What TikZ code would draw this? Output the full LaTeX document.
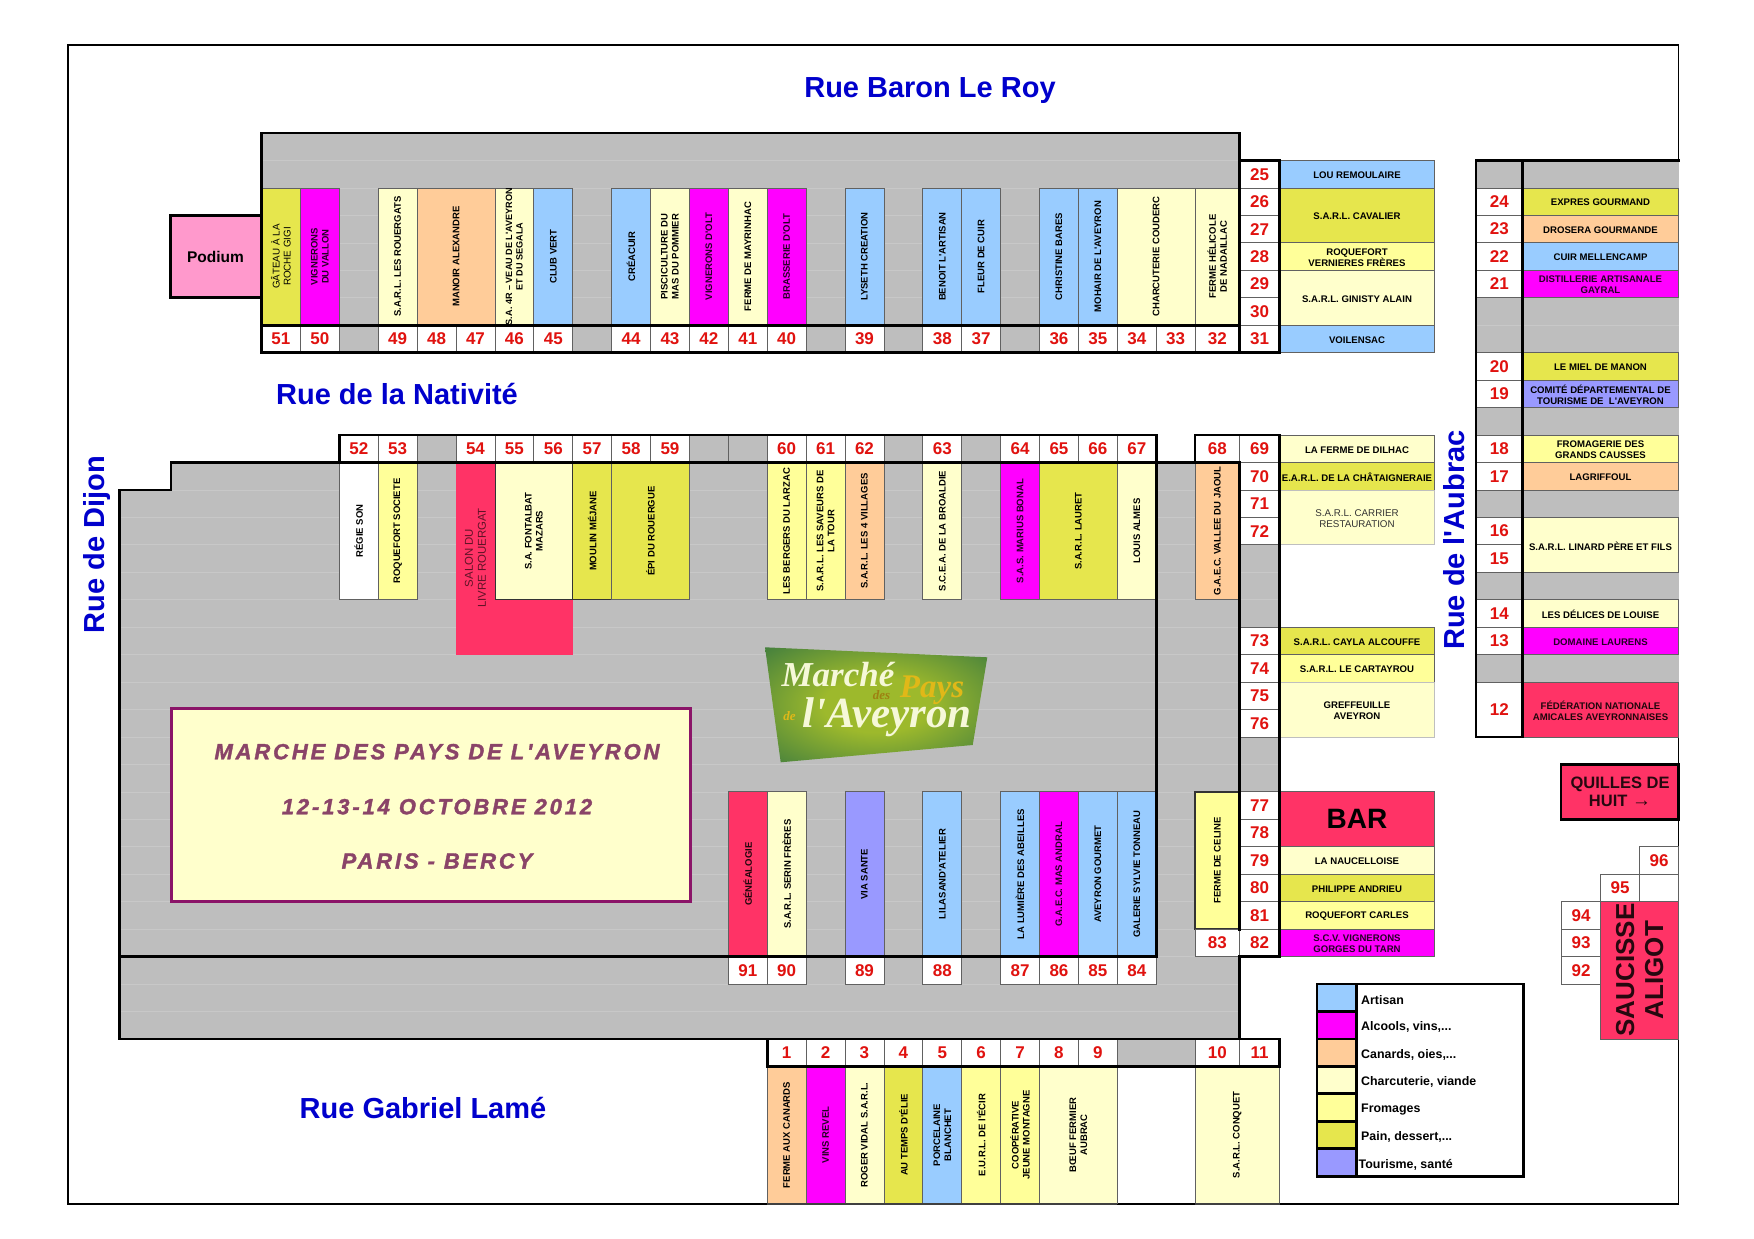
\documentclass[tikz,border=0pt]{standalone}
\usepackage{fontspec}
\setmainfont[Ligatures=TeXOff]{Liberation Sans}
\newfontfamily\logofont{Liberation Serif}
\newfontfamily\widefont[LetterSpace=13,Ligatures=TeXOff,BoldItalicFeatures={FakeBold=1.6}]{Liberation Sans}
\definecolor{cPain}{HTML}{E6E64D}
\definecolor{cCream}{HTML}{FFFFCC}
\definecolor{cFrom}{HTML}{FFFF99}
\definecolor{cOr}{HTML}{FFCC99}
\definecolor{cBlue}{HTML}{99CCFF}
\definecolor{cMag}{HTML}{FF00FF}
\definecolor{cRed}{HTML}{FF3366}
\definecolor{cTour}{HTML}{9999FF}
\definecolor{cPink}{HTML}{FF99CC}
\definecolor{cGrey}{HTML}{BEBEBE}
\definecolor{cNum}{HTML}{E0120F}
\definecolor{cTitle}{HTML}{0000CC}
\definecolor{cBan}{HTML}{8A4468}
\definecolor{cBanB}{HTML}{8B1468}
\definecolor{cLogoA}{HTML}{9DB92C}
\definecolor{cLogoB}{HTML}{2C7042}
\definecolor{cGold}{HTML}{E0B818}
\definecolor{cWhit}{HTML}{F6F8D8}
\pgfdeclareradialshading{logoshade}{\pgfpoint{0bp}{0bp}}{color(0bp)=(cLogoA); color(12bp)=(cLogoA); color(42bp)=(cLogoB); color(50bp)=(cLogoB)}
\def\xA{1239.5}\def\xB{1279.5}\def\xC{1434.5}\def\xD{1476}\def\xE{1522.5}\def\xF{1678.5}
\tikzset{
 pa/.style={fill=cPain}, cr/.style={fill=cCream}, fr/.style={fill=cFrom}, orr/.style={fill=cOr},
 bl/.style={fill=cBlue}, ma/.style={fill=cMag,text=black!85!cMag}, re/.style={fill=cRed,text=black!88!cRed},
 to/.style={fill=cTour}, wh/.style={fill=white},
 boxline/.style={draw=black!62,line width=0.8pt},
 vlabel/.style={rotate=90,align=center,inner sep=0pt,font=\bfseries\fontsize{9.5}{11}\selectfont},
 hlabel/.style={align=center,inner sep=0pt,yshift=-1pt,font=\bfseries\fontsize{9.6}{11}\selectfont},
 reg/.style={font=\fontsize{9.8}{11}\selectfont},
 tight/.style={font=\bfseries\fontsize{9.1}{10.5}\selectfont},
 numlabel/.style={inner sep=0pt,text=cNum,font=\bfseries\fontsize{17}{18}\selectfont},
 heavy/.style={draw=black,line width=2.8pt,line join=miter,line cap=rect},
 glow/.style={draw=white,opacity=.17,line width=0.7pt},
 street/.style={inner sep=0pt,text=cTitle,font=\bfseries\fontsize{29}{31}\selectfont},
 legtext/.style={anchor=west,inner sep=0pt,yshift=-2pt,font=\bfseries\fontsize{12.4}{13}\selectfont},
 bantext/.style={inner sep=0pt,text=cBan,font=\widefont\bfseries\itshape\fontsize{22}{24}\selectfont}
}
\newcommand\vst[7]{% name,x0,x1,y0,y1,style,text
 \path[boxline,#6] ({#2},{#4}) rectangle ({#3},{#5});
 \node[vlabel,#6,fill=none,draw=none] (#1) at ({(#2+#3)/2},{(#4+#5)/2}) {#7};}
\newcommand\hst[7]{%
 \path[boxline,#6] ({#2},{#4}) rectangle ({#3},{#5});
 \node[hlabel,#6,fill=none,draw=none] (#1) at ({(#2+#3)/2},{(#4+#5)/2}) {#7};}
\newcommand\nc[6]{% name,x0,x1,y0,y1,text
 \path[boxline,fill=white] ({#2},{#4}) rectangle ({#3},{#5});
 \node[numlabel] (#1) at ({(#2+#3)/2},{(#4+#5)/2}) {#6};}
\newcommand\gc[4]{\path[boxline,fill=cGrey] ({#1},{#3}) rectangle ({#2},{#4});}
\begin{document}
\begin{tikzpicture}[x=1pt,y=-1pt,
  declare function={cx(\i)=261.5+38.9*\i; ry(\j)=160.5+27.45*\j;}]
\useasboundingbox (0,0) rectangle (1754,1239);
\fill[white] (0,0) rectangle (1754,1239);
\draw[black,line width=1.8pt] (68,44.7) rectangle (\xF,1204);

% grey areas
\fill[cGrey] ({cx(0)},{ry(-1)}) rectangle (\xA,{ry(7)});
\fill[cGrey] (171,{ry(11)}) -- (\xA,{ry(11)}) -- (\xA,{ry(32)}) -- (119.6,{ry(32)}) -- (119.6,{ry(12)}) -- (171,{ry(12)}) -- cycle;
\fill[cGrey] ({cx(2)},{ry(10)}) rectangle ({cx(23)},{ry(11)});
\fill[cGrey] (\xA,{ry(11)}) rectangle (\xB,{ry(29)});
\fill[cGrey] (\xD,{ry(0)}) rectangle (\xF,{ry(21)});
% faint cell lines
\foreach \j in {0,...,6} \draw[glow] ({cx(0)},{ry(\j)}) -- (\xA,{ry(\j)});
\foreach \j in {12,...,31} \draw[glow] (119.6,{ry(\j)}) -- (\xB,{ry(\j)});
\foreach \j in {1,...,20} \draw[glow] (\xD,{ry(\j)}) -- (\xF,{ry(\j)});

% podium
\path[draw=black,line width=2.8pt,fill=cPink] (170.5,{ry(2)}) rectangle ({cx(0)},{ry(5)});
\node[inner sep=0pt,font=\bfseries\fontsize{15.5}{17}\selectfont] (podium) at (215.5,256.5) {Podium};

% upper block stalls
\vst{s51}{cx(0)}{cx(1)}{ry(1)}{ry(6)}{pa,reg}{GÂTEAU À LA\\ROCHE GIGI}
\vst{s50}{cx(1)}{cx(2)}{ry(1)}{ry(6)}{ma}{VIGNERONS\\DU VALLON}
\vst{s49}{cx(3)}{cx(4)}{ry(1)}{ry(6)}{cr}{S.A.R.L. LES ROUERGATS}
\vst{s48}{cx(4)}{cx(6)}{ry(1)}{ry(6)}{orr}{MANOIR ALEXANDRE}
\vst{s46}{cx(6)}{cx(7)}{ry(1)}{ry(6)}{cr,tight}{S.A. 4R – VEAU DE L'AVEYRON\\ET DU SEGALA}
\vst{s45}{cx(7)}{cx(8)}{ry(1)}{ry(6)}{bl}{CLUB VERT}
\vst{s44}{cx(9)}{cx(10)}{ry(1)}{ry(6)}{bl}{CRÉACUIR}
\vst{s43}{cx(10)}{cx(11)}{ry(1)}{ry(6)}{cr}{PISCICULTURE DU\\MAS DU POMMIER}
\vst{s42}{cx(11)}{cx(12)}{ry(1)}{ry(6)}{ma}{VIGNERONS D'OLT}
\vst{s41}{cx(12)}{cx(13)}{ry(1)}{ry(6)}{cr}{FERME DE MAYRINHAC}
\vst{s40}{cx(13)}{cx(14)}{ry(1)}{ry(6)}{ma}{BRASSERIE D'OLT}
\vst{s39}{cx(15)}{cx(16)}{ry(1)}{ry(6)}{bl}{LYSETH CREATION}
\vst{s38}{cx(17)}{cx(18)}{ry(1)}{ry(6)}{bl}{BENOIT L'ARTISAN}
\vst{s37}{cx(18)}{cx(19)}{ry(1)}{ry(6)}{bl}{FLEUR DE CUIR}
\vst{s36}{cx(20)}{cx(21)}{ry(1)}{ry(6)}{bl}{CHRISTINE BARES}
\vst{s35}{cx(21)}{cx(22)}{ry(1)}{ry(6)}{bl}{MOHAIR DE L'AVEYRON}
\vst{s34}{cx(22)}{cx(24)}{ry(1)}{ry(6)}{cr}{CHARCUTERIE COUDERC}
\vst{s32}{cx(24)}{\xA}{ry(1)}{ry(6)}{cr}{FERME HÉLICOLE\\DE NADAILLAC}
\foreach \n/\i in {51/0,50/1,49/3,48/4,47/5,46/6,45/7,44/9,43/10,42/11,41/12,40/13,39/15,38/17,37/18,36/20,35/21,34/22,33/23}
  {\nc{n\n}{cx(\i)}{cx(\i+1)}{ry(6)}{ry(7)}{\n}}
\nc{n32}{cx(24)}{\xA}{ry(6)}{ry(7)}{32}
\foreach \i in {2,8,14,16,19} {\gc{cx(\i)}{cx(\i+1)}{ry(6)}{ry(7)}}

% row 52-67
\vst{s52}{cx(2)}{cx(3)}{ry(11)}{ry(16)}{wh}{RÉGIE SON}
\vst{s53}{cx(3)}{cx(4)}{ry(11)}{ry(16)}{fr}{ROQUEFORT SOCIETE}
\path[fill=cRed] ({cx(5)},{ry(11)}) rectangle ({cx(6)},{ry(16)});
\path[fill=cRed] ({cx(5)},{ry(16)}) rectangle ({cx(8)},{ry(18)});
\node[rotate=90,align=center,inner sep=0pt,text=black!62!cRed,font=\fontsize{11.4}{13}\selectfont] (s54) at ({(cx(5)+cx(6))/2},558) {SALON DU\\LIVRE ROUERGAT};
\vst{s55}{cx(6)}{cx(8)}{ry(11)}{ry(16)}{cr,draw=black!80}{S.A. FONTALBAT\\MAZARS}
\vst{s57}{cx(8)}{cx(9)}{ry(11)}{ry(16)}{pa,draw=black!80}{MOULIN MÉJANE}
\vst{s58}{cx(9)}{cx(11)}{ry(11)}{ry(16)}{pa}{ÉPI DU ROUERGUE}
\vst{s60}{cx(13)}{cx(14)}{ry(11)}{ry(16)}{fr}{LES BERGERS DU LARZAC}
\vst{s61}{cx(14)}{cx(15)}{ry(11)}{ry(16)}{fr}{S.A.R.L. LES SAVEURS DE\\LA TOUR}
\vst{s62}{cx(15)}{cx(16)}{ry(11)}{ry(16)}{orr}{S.A.R.L. LES 4 VILLAGES}
\vst{s63}{cx(17)}{cx(18)}{ry(11)}{ry(16)}{cr}{S.C.E.A. DE LA BROALDIE}
\vst{s64}{cx(19)}{cx(20)}{ry(11)}{ry(16)}{ma}{S.A.S. MARIUS BONAL}
\vst{s65}{cx(20)}{cx(22)}{ry(11)}{ry(16)}{pa}{S.A.R.L. LAURET}
\vst{s67}{cx(22)}{cx(23)}{ry(11)}{ry(16)}{cr}{LOUIS ALMES}
\vst{s68}{1195}{\xA}{ry(11)}{ry(16)}{orr}{G.A.E.C. VALLEE DU JAOUL}
\foreach \n/\i in {52/2,53/3,54/5,55/6,56/7,57/8,58/9,59/10,60/13,61/14,62/15,63/17,64/19,65/20,66/21,67/22}
  {\nc{n\n}{cx(\i)}{cx(\i+1)}{ry(10)}{ry(11)}{\n}}
\foreach \i in {4,11,12,16,18} {\gc{cx(\i)}{cx(\i+1)}{ry(10)}{ry(11)}}
\nc{n68}{1195}{\xA}{ry(10)}{ry(11)}{68}

% row 84-91
\vst{s91}{cx(12)}{cx(13)}{ry(23)}{ry(29)}{re}{GÉNÉALOGIE}
\vst{s90}{cx(13)}{cx(14)}{ry(23)}{ry(29)}{cr}{S.A.R.L. SERIN FRÈRES}
\vst{s89}{cx(15)}{cx(16)}{ry(23)}{ry(29)}{to}{VIA SANTE}
\vst{s88}{cx(17)}{cx(18)}{ry(23)}{ry(29)}{bl}{LILASAND'ATELIER}
\vst{s87}{cx(19)}{cx(20)}{ry(23)}{ry(29)}{bl}{LA LUMIÈRE DES ABEILLES}
\vst{s86}{cx(20)}{cx(21)}{ry(23)}{ry(29)}{ma}{G.A.E.C. MAS ANDRAL}
\vst{s85}{cx(21)}{cx(22)}{ry(23)}{ry(29)}{bl}{AVEYRON GOURMET}
\vst{s84}{cx(22)}{cx(23)}{ry(23)}{ry(29)}{bl}{GALERIE SYLVIE TONNEAU}
\foreach \n/\i in {91/12,90/13,89/15,88/17,87/19,86/20,85/21,84/22}
  {\nc{n\n}{cx(\i)}{cx(\i+1)}{ry(29)}{ry(30)}{\n}}
\vst{s83}{1195}{\xA}{ry(23)}{ry(28)}{fr,draw=black!80,line width=1.6pt}{FERME DE CELINE}
\nc{n83}{1195}{\xA}{ry(28)}{ry(29)}{83}

% column 25-31, 69-82
\foreach \n/\j in {25/0,26/1,27/2,28/3,29/4,30/5,31/6,69/10,70/11,71/12,72/13,73/17,74/18,75/19,76/20,77/23,78/24,79/25,80/26,81/27,82/28}
  {\nc{n\n}{\xA}{\xB}{ry(\j)}{ry(\j+1)}{\n}}
\hst{s25}{\xB}{\xC}{ry(0)}{ry(1)}{bl}{LOU REMOULAIRE}
\hst{s26}{\xB}{\xC}{ry(1)}{ry(3)}{pa}{S.A.R.L. CAVALIER}
\hst{s28}{\xB}{\xC}{ry(3)}{ry(4)}{fr}{ROQUEFORT\\VERNIERES FRÈRES}
\hst{s29}{\xB}{\xC}{ry(4)}{ry(6)}{cr}{S.A.R.L. GINISTY ALAIN}
\hst{s31}{\xB}{\xC}{ry(6)}{ry(7)}{bl}{VOILENSAC}
\hst{s69}{\xB}{\xC}{ry(10)}{ry(11)}{cr}{LA FERME DE DILHAC}
\hst{s70}{\xB}{\xC}{ry(11)}{ry(12)}{pa}{E.A.R.L. DE LA CHÂTAIGNERAIE}
\hst{s71}{\xB}{\xC}{ry(12)}{ry(14)}{cr,reg,draw=black!25,text=black!80}{S.A.R.L. CARRIER\\RESTAURATION}
\hst{s73}{\xB}{\xC}{ry(17)}{ry(18)}{pa}{S.A.R.L. CAYLA ALCOUFFE}
\hst{s74}{\xB}{\xC}{ry(18)}{ry(19)}{fr}{S.A.R.L. LE CARTAYROU}
\hst{s75}{\xB}{\xC}{ry(19)}{ry(21)}{cr,draw=black!25}{GREFFEUILLE\\AVEYRON}
\path[boxline,fill=cRed] (\xB,{ry(23)}) rectangle (\xC,{ry(25)});
\node[inner sep=0pt,font=\bfseries\fontsize{28}{30}\selectfont] (bar) at ({(\xB+\xC)/2},{ry(24)}) {BAR};
\hst{s79}{\xB}{\xC}{ry(25)}{ry(26)}{cr}{LA NAUCELLOISE}
\hst{s80}{\xB}{\xC}{ry(26)}{ry(27)}{pa}{PHILIPPE ANDRIEU}
\hst{s81}{\xB}{\xC}{ry(27)}{ry(28)}{fr}{ROQUEFORT CARLES}
\hst{s82}{\xB}{\xC}{ry(28)}{ry(29)}{ma}{S.C.V. VIGNERONS\\GORGES DU TARN}

% far right column
\foreach \n/\j in {24/1,23/2,22/3,21/4,20/7,19/8,18/10,17/11,16/13,15/14,14/16,13/17}
  {\nc{n\n}{\xD}{\xE}{ry(\j)}{ry(\j+1)}{\n}}
\nc{n12}{\xD}{\xE}{ry(19)}{ry(21)}{12}
\hst{s24}{\xE}{\xF}{ry(1)}{ry(2)}{pa}{EXPRES GOURMAND}
\hst{s23}{\xE}{\xF}{ry(2)}{ry(3)}{orr}{DROSERA GOURMANDE}
\hst{s22}{\xE}{\xF}{ry(3)}{ry(4)}{bl}{CUIR MELLENCAMP}
\hst{s21}{\xE}{\xF}{ry(4)}{ry(5)}{ma}{DISTILLERIE ARTISANALE\\GAYRAL}
\hst{s20}{\xE}{\xF}{ry(7)}{ry(8)}{pa}{LE MIEL DE MANON}
\hst{s19}{\xE}{\xF}{ry(8)}{ry(9)}{to}{COMITÉ DÉPARTEMENTAL DE\\TOURISME DE\ \ L'AVEYRON}
\hst{s18}{\xE}{\xF}{ry(10)}{ry(11)}{fr}{FROMAGERIE DES\\GRANDS CAUSSES}
\hst{s17}{\xE}{\xF}{ry(11)}{ry(12)}{orr}{LAGRIFFOUL}
\hst{s16}{\xE}{\xF}{ry(13)}{ry(15)}{cr}{S.A.R.L. LINARD PÈRE ET FILS}
\hst{s14}{\xE}{\xF}{ry(16)}{ry(17)}{cr}{LES DÉLICES DE LOUISE}
\hst{s13}{\xE}{\xF}{ry(17)}{ry(18)}{ma}{DOMAINE LAURENS}
\hst{s12}{\xE}{\xF}{ry(19)}{ry(21)}{re}{FÉDÉRATION NATIONALE\\AMICALES AVEYRONNAISES}

% row 1-11
\foreach \n/\i in {1/13,2/14,3/15,4/16,5/17,6/18,7/19,8/20,9/21}
  {\nc{n\n}{cx(\i)}{cx(\i+1)}{ry(32)}{ry(33)}{\n}}
\gc{cx(22)}{1195}{ry(32)}{ry(33)}
\nc{n10}{1195}{\xA}{ry(32)}{ry(33)}{10}
\nc{n11}{\xA}{\xB}{ry(32)}{ry(33)}{11}
\vst{s1}{cx(13)}{cx(14)}{ry(33)}{ry(38)}{orr}{FERME AUX CANARDS}
\vst{s2}{cx(14)}{cx(15)}{ry(33)}{ry(38)}{ma}{VINS REVEL}
\vst{s3}{cx(15)}{cx(16)}{ry(33)}{ry(38)}{cr}{ROGER VIDAL S.A.R.L.}
\vst{s4}{cx(16)}{cx(17)}{ry(33)}{ry(38)}{pa}{AU TEMPS D'ÉLIE}
\vst{s5}{cx(17)}{cx(18)}{ry(33)}{ry(38)}{bl}{PORCELAINE\\BLANCHET}
\vst{s6}{cx(18)}{cx(19)}{ry(33)}{ry(38)}{fr}{E.U.R.L. DE l'ÉCIR}
\vst{s7}{cx(19)}{cx(20)}{ry(33)}{ry(38)}{fr}{COOPÉRATIVE\\JEUNE MONTAGNE}
\vst{s8}{cx(20)}{cx(22)}{ry(33)}{ry(38)}{cr}{BŒUF FERMIER\\AUBRAC}
\vst{s10}{1195}{\xB}{ry(33)}{ry(38)}{cr}{S.A.R.L. CONQUET}
\draw[black!75,line width=2pt] ({cx(13)},{ry(38)}) -- ({cx(22)},{ry(38)});
\draw[black!75,line width=2pt] (1195,{ry(38)}) -- (\xB,{ry(38)});

% heavy outlines
\draw[heavy] ({cx(0)},{ry(7)}) -- ({cx(0)},{ry(-1)}) -- (\xA,{ry(-1)}) -- (\xA,{ry(7)});
\draw[heavy] ({cx(0)},{ry(6)}) -- (\xA,{ry(6)});
\draw[heavy] ({cx(0)},{ry(7)}) -- (\xB,{ry(7)}) -- (\xB,{ry(0)}) -- (\xA,{ry(0)});
\draw[heavy] ({cx(2)},{ry(11)}) -- ({cx(2)},{ry(10)}) -- ({cx(23)},{ry(10)}) -- ({cx(23)},{ry(29)});
\draw[heavy] (1195,{ry(11)}) -- (1195,{ry(10)}) -- (\xB,{ry(10)}) -- (\xB,{ry(29)}) -- (\xA,{ry(29)}) -- (\xA,{ry(32)});
\draw[heavy] (\xA,{ry(11)}) -- (\xA,{ry(28)});
\draw[heavy] (\xA,{ry(32)}) -- (119.6,{ry(32)}) -- (119.6,{ry(12)}) -- (171,{ry(12)}) -- (171,{ry(11)}) -- (\xA,{ry(11)});
\draw[heavy] (119.6,{ry(29)}) -- ({cx(23)},{ry(29)});
\draw[heavy] ({cx(13)},{ry(32)}) rectangle (\xB,{ry(33)});
\draw[heavy] (\xF,{ry(0)}) -- (\xD,{ry(0)}) -- (\xD,{ry(21)}) -- (\xE,{ry(21)}) -- (\xE,{ry(0)});

% quilles, saucisse
\path[draw=black,line width=2.8pt,fill=cRed] (1561,{ry(22)}) rectangle (\xF,{ry(24)});
\node[align=center,inner sep=0pt,text=black!85!cRed,font=\bfseries\fontsize{16.5}{18.5}\selectfont] (quilles) at (1620,{ry(23)}) {QUILLES DE\\HUIT {\mdseries\fontsize{19}{18.5}\selectfont →}};
\nc{n96}{1639.5}{\xF}{ry(25)}{ry(26)}{96}
\nc{n95}{1600.5}{1639.5}{ry(26)}{ry(27)}{95}
\path[boxline,fill=white] (1639.5,{ry(26)}) rectangle (\xF,{ry(27)});
\nc{n94}{1561.5}{1600.5}{ry(27)}{ry(28)}{94}
\nc{n93}{1561.5}{1600.5}{ry(28)}{ry(29)}{93}
\nc{n92}{1561.5}{1600.5}{ry(29)}{ry(30)}{92}
\path[boxline,fill=cRed] (1600.5,{ry(27)}) rectangle (\xF,{ry(32)});
\node[rotate=90,align=center,inner sep=0pt,text=black!85!cRed,font=\bfseries\fontsize{26}{29}\selectfont] (saucisse) at (1639.7,970) {SAUCISSE\\ALIGOT};

% legend
\path[draw=black,line width=2.8pt,fill=white] (1317,{ry(30)}) rectangle (1523.5,{ry(37)});
\foreach \k/\c in {30/cBlue,31/cMag,32/cOr,33/cCream,34/cFrom,35/cPain,36/cTour}
  {\path[draw=black,line width=2.8pt,fill=\c] (1317,{ry(\k)}) rectangle (1356.5,{ry(\k+1)});}
\node[legtext] (l1) at (1361,{ry(30.5)}) {Artisan};
\node[legtext] (l2) at (1361,{ry(31.5)}) {Alcools, vins,...};
\node[legtext] (l3) at (1361,{ry(32.5)}) {Canards, oies,...};
\node[legtext] (l4) at (1361,{ry(33.5)}) {Charcuterie, viande};
\node[legtext] (l5) at (1361,{ry(34.5)}) {Fromages};
\node[legtext] (l6) at (1361,{ry(35.5)}) {Pain, dessert,...};
\node[legtext] (l7) at (1358.5,{ry(36.5)}) {Tourisme, santé};

% banner
\path[draw=cBanB,line width=3pt,fill=cCream] (171,708.5) rectangle (690,901.5);
\node[bantext] (b1) at (437,751.7) {MARCHE DES PAYS DE L'AVEYRON};
\node[bantext] (b2) at (437,806.7) {12-13-14 OCTOBRE 2012};
\node[bantext] (b3) at (437,861) {PARIS - BERCY};

% logo
\shade[shading=logoshade] (765,647.3) -- (987.3,657.3) -- (972.7,745) -- (780.7,762.3) -- cycle;
\node[inner sep=0pt,text=cWhit,font=\logofont\bfseries\itshape\fontsize{35}{37}\selectfont] (lg1) at (838,675) {Marché};
\node[inner sep=0pt,text=cGold,font=\logofont\bfseries\itshape\fontsize{33}{35}\selectfont] (lg2) at (932,690) {Pays};
\node[inner sep=0pt,text=cGold!70!black,font=\logofont\bfseries\itshape\fontsize{13}{14}\selectfont] (lg3) at (881.5,695) {des};
\node[inner sep=0pt,text=cGold,font=\logofont\bfseries\itshape\fontsize{13}{14}\selectfont] (lg4) at (789.5,716) {de};
\node[inner sep=0pt,text=cWhit,font=\logofont\bfseries\itshape\fontsize{43}{45}\selectfont] (lg5) at (887,717) {l'Aveyron};

% street names
\node[street] (r1) at (930,91) {Rue Baron Le Roy};
\node[street] (r2) at (397,394.5) {Rue de la Nativité};
\node[street] (r3) at (423,1108) {Rue Gabriel Lamé};
\node[street,rotate=90] (r4) at (97,544.5) {Rue de Dijon};
\node[street,rotate=90] (r5) at (1454.5,540) {Rue de l'Aubrac};
\end{tikzpicture}
\end{document}
